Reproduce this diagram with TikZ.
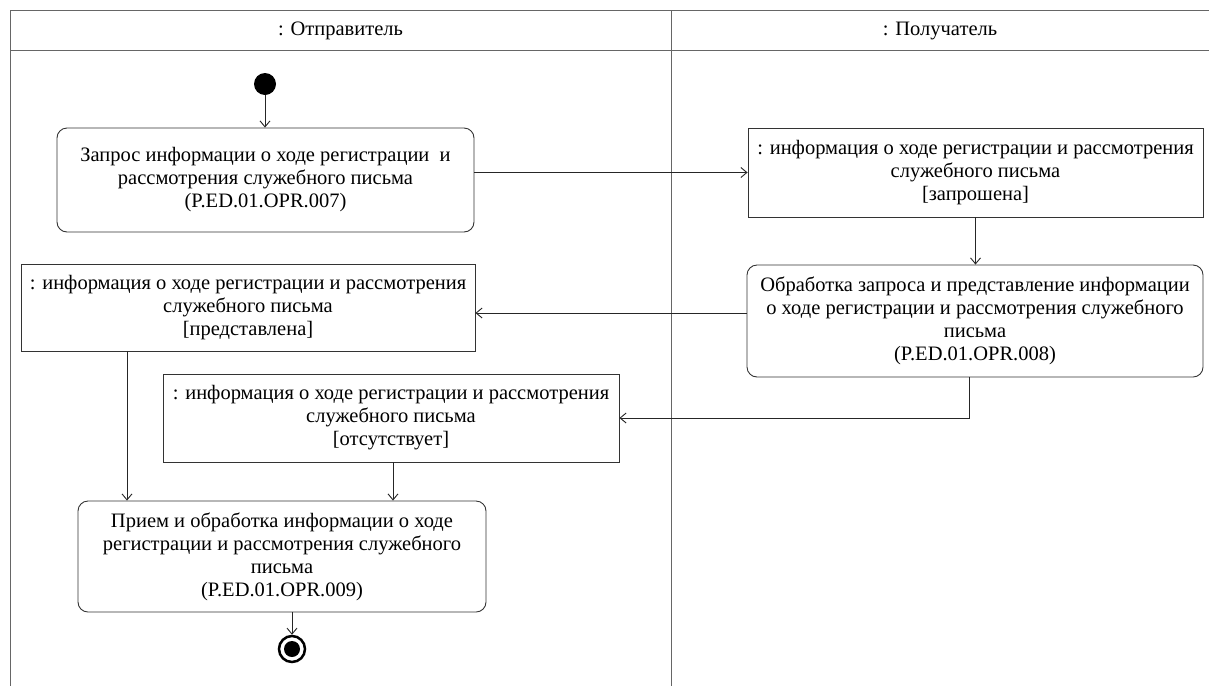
\documentclass[tikz,border=0pt]{standalone}
\usepackage{fontspec}
\setmainfont{Liberation Serif}
\usetikzlibrary{arrows.meta}
\begin{document}
\begin{tikzpicture}[x=1pt,y=-1pt,
  every node/.style={font=\fontsize{20.5}{23}\selectfont},
  frameline/.style={draw=black!60, line width=1pt},
  action/.style={draw=black!80, line width=0.9pt, rounded corners=10pt, align=center, inner sep=0pt},
  objnode/.style={draw=black!80, line width=0.9pt, align=center, inner sep=0pt},
  flow/.style={draw=black!85, line width=0.9pt, -{Straight Barb[length=6pt,width=10pt]}},
]
\useasboundingbox (0,0) rectangle (1209,686);
\fill[white] (0,0) rectangle (1209,686);
% swimlane frame
\draw[frameline] (1209,10) -- (10,10) -- (10,686);
\draw[frameline] (10,50) -- (1209,50);
\draw[frameline] (671,10) -- (671,686);
\node (h1) at (340.5,31) {: Отправитель};
\node (h2) at (940,31) {: Получатель};
% nodes
\node[circle, fill=black, minimum size=22pt, inner sep=0pt] (start) at (265,84) {};
\node[action, minimum width=417pt, minimum height=104pt] (a1) at (265.5,180)
  {Запрос информации о ходе регистрации \ и\\рассмотрения служебного письма\\(P.ED.01.OPR.007)};
\node[objnode, minimum width=455pt, minimum height=89pt] (o2) at (975.5,172.5)
  {: информация о ходе регистрации и рассмотрения\\служебного письма\\{[запрошена]}};
\node[action, minimum width=456pt, minimum height=112pt] (a3) at (975,321)
  {Обработка запроса и представление информации\\о ходе регистрации и рассмотрения служебного\\письма\\(P.ED.01.OPR.008)};
\node[objnode, minimum width=454pt, minimum height=87pt] (o4) at (248,307.5)
  {: информация о ходе регистрации и рассмотрения\\служебного письма\\{[представлена]}};
\node[objnode, minimum width=456pt, minimum height=88pt] (o5) at (391,418)
  {: информация о ходе регистрации и рассмотрения\\служебного письма\\{[отсутствует]}};
\node[action, minimum width=408pt, minimum height=111pt] (a6) at (282,556.5)
  {Прием и обработка информации о ходе\\регистрации и рассмотрения служебного\\письма\\(P.ED.01.OPR.009)};
\node[circle, draw=black, line width=2.5pt, minimum size=26pt, inner sep=0pt,
  path picture={\fill[black] (path picture bounding box.center) circle (8pt);}] (end) at (292,649) {};
% flows
\draw[flow] (start.south) -- (start.south |- a1.north);
\draw[flow] (o2.west -| a1.east) -- (o2.west);
\draw[flow] (o2.south) -- (o2.south |- a3.north);
\draw[flow] ([yshift=8pt]a3.west) -- ([yshift=8pt]a3.west -| o4.east);
\draw[flow] ([xshift=-6pt]a3.south) |- (o5.east);
\draw[flow] ([xshift=-121pt]o4.south) -- ([xshift=-121pt]o4.south |- a6.north);
\draw[flow] ([xshift=2pt]o5.south) -- ([xshift=2pt]o5.south |- a6.north);
\draw[flow] ([xshift=10pt]a6.south) -- (end.north);
\end{tikzpicture}
\end{document}
